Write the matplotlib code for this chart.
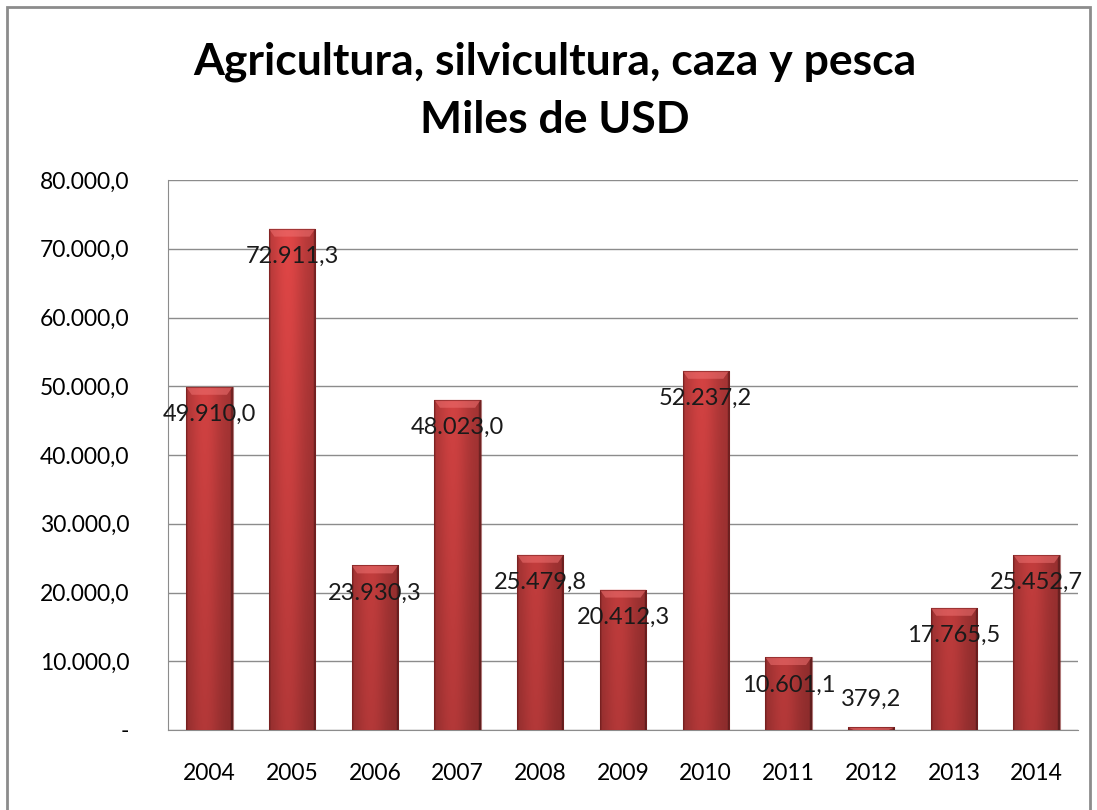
import numpy as np
import matplotlib
matplotlib.use("Agg")
import matplotlib.pyplot as plt
from matplotlib.patches import Rectangle, Polygon

years = ["2004", "2005", "2006", "2007", "2008", "2009", "2010", "2011", "2012", "2013", "2014"]
values = [49910.0, 72911.3, 23930.3, 48023.0, 25479.8, 20412.3, 52237.2, 10601.1, 379.2, 17765.5, 25452.7]
yticks = [0, 10000, 20000, 30000, 40000, 50000, 60000, 70000, 80000]


def fmt(v):
    # spanish style: 72.911,3
    s = f"{v:,.1f}"
    return s.replace(",", "X").replace(".", ",").replace("X", ".")


plt.rcParams["font.family"] = ["Lato", "DejaVu Sans"]

fig = plt.figure(figsize=(10.97, 8.10), dpi=100)
ax = fig.add_axes([168 / 1097, 80 / 810, 910 / 1097, 550 / 810])

ymax = 80000
x = np.arange(len(years))
bars = ax.bar(x, values, width=0.56, color="#c83c3c", zorder=2)

# shading: lighter left-centre, darker edges, darker towards the bottom
hx = np.linspace(0, 1, 64)
prof = 0.78 + 0.24 * np.exp(-((hx - 0.4) / 0.35) ** 2)
prof[:2] *= 0.8
prof[-3:] *= 0.7
base = np.array([0.86, 0.27, 0.27])
for b in bars:
    x0, w, h = b.get_x(), b.get_width(), b.get_height()
    vy = np.linspace(0, 1, 100).reshape(-1, 1)  # 0 = top of image
    ytop = h / ymax
    yabs = ytop * (1 - vy)
    vfac = 0.80 + 0.20 * yabs / 0.9
    img = base[None, None, :] * (prof[None, :, None] * vfac[:, :, None])
    img = np.clip(img, 0, 1)
    im = ax.imshow(img, extent=(x0, x0 + w, 0, h), aspect="auto", zorder=3, interpolation="bilinear")
    im.set_clip_path(b)
    # bevel at the top
    cap = min(h, 1150)
    inset = w * 0.12
    ax.add_patch(Polygon([(x0, h), (x0 + w, h), (x0 + w - inset, h - cap), (x0 + inset, h - cap)],
                         closed=True, color="#ee7070", alpha=0.55, lw=0, zorder=4))
    ax.add_patch(Rectangle((x0, 0), w, h, fill=False, edgecolor="#7a1e1e", lw=0.8, alpha=0.6, zorder=4))

for xi, v in zip(x, values):
    off = -20 if v > 3000 else 20
    ax.annotate(fmt(v), (xi, v), xytext=(0, off), textcoords="offset points",
                ha="center", va="center", fontsize=17, color="#1a1a1a", zorder=5)

ax.set_xlim(-0.5, len(years) - 0.5)
ax.set_ylim(0, ymax)
ax.set_yticks(yticks)
ax.set_yticklabels(["-"] + [fmt(t) for t in yticks[1:]], fontsize=16.5)
ax.set_xticks(x)
ax.set_xticklabels(years, fontsize=16.5)
ax.tick_params(length=0)
ax.tick_params(axis="y", pad=28)
ax.tick_params(axis="x", pad=24)
ax.grid(axis="y", color="#8c8c8c", lw=1, zorder=0)
for s in ["top", "right"]:
    ax.spines[s].set_visible(False)
for s in ["left", "bottom"]:
    ax.spines[s].set_color("#8c8c8c")

fig.text(555 / 1097, 1 - 62 / 810, "Agricultura, silvicultura, caza y pesca", ha="center", va="center",
         fontsize=32, fontweight="bold")
fig.text(555 / 1097, 1 - 120 / 810, "Miles de USD", ha="center", va="center",
         fontsize=32, fontweight="bold")

# outer chart border
fig.patches.append(Rectangle((7 / 1097, -0.02), 1083 / 1097, 1.02 - 7 / 810, transform=fig.transFigure,
                             fill=False, edgecolor="#8c8c8c", lw=2))

fig.savefig("out.png", dpi=100)
